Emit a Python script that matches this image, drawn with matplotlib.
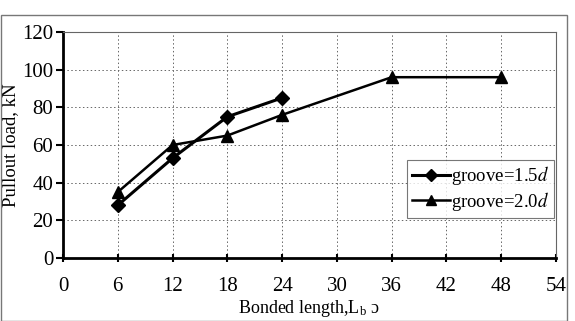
import matplotlib
matplotlib.use("Agg")
import matplotlib.pyplot as plt
from matplotlib.patches import Rectangle

plt.rcParams["font.family"] = ["Liberation Serif", "DejaVu Serif"]
plt.rcParams["mathtext.fontset"] = "stix"

# data
bond_15 = [6, 12, 18, 24]
load_15 = [28, 53, 75, 85]
bond_20 = [6, 12, 18, 24, 36, 48]
load_20 = [35, 60, 65, 76, 96, 96]
x_ticks = [0, 6, 12, 18, 24, 30, 36, 42, 48, 54]
y_ticks = [0, 20, 40, 60, 80, 100, 120]

fig = plt.figure(figsize=(5.75, 3.21), dpi=100)
ax = fig.add_axes([63 / 575, 1 - 258 / 321, (556 - 63) / 575, (258 - 32) / 321])

# outer chart frame
fig.patches.append(Rectangle((0.5 / 575, 0), 566 / 575, 1 - 15 / 321,
                             transform=fig.transFigure, fill=False,
                             edgecolor="#777777", linewidth=1.0))

ax.plot(bond_15, load_15, color="black", linewidth=2.2, marker="D",
        markersize=7, label="groove=1.5$\\it{d}$", zorder=3)
ax.plot(bond_20, load_20, color="black", linewidth=1.8, marker="^",
        markersize=8, label="groove=2.0$\\it{d}$", zorder=3)

ax.set_xlim(0, 54)
ax.set_ylim(0, 120)
ax.set_xticks(x_ticks)
ax.set_yticks(y_ticks)
ax.grid(True, color="#666666", linestyle=(0, (1.5, 2.5)), linewidth=0.7)

for s in ["left", "bottom"]:
    ax.spines[s].set_linewidth(2.0)
for s in ["top", "right"]:
    ax.spines[s].set_linewidth(0.8)
    ax.spines[s].set_color("#666666")

ax.tick_params(axis="x", direction="inout", length=6, width=1.5, labelsize=15, pad=11)
ax.tick_params(axis="y", direction="out", length=5, width=1.5, labelsize=15, pad=2)

ax.set_xlabel("Bonded length,L$_\\mathregular{b}$ ɔ", fontsize=13, labelpad=1)
ax.set_ylabel("Pullout load, kN", fontsize=13.5, labelpad=2)

leg = ax.legend(loc="lower right", bbox_to_anchor=(1.0, 0.17), fontsize=13.5,
                frameon=True, fancybox=False, handlelength=2.0,
                handletextpad=0.1, borderpad=0.25, labelspacing=0.15,
                borderaxespad=0.1, markerscale=0.85)
leg.get_frame().set_edgecolor("#555555")
leg.get_frame().set_linewidth(0.8)

fig.savefig("out.png", dpi=100)
